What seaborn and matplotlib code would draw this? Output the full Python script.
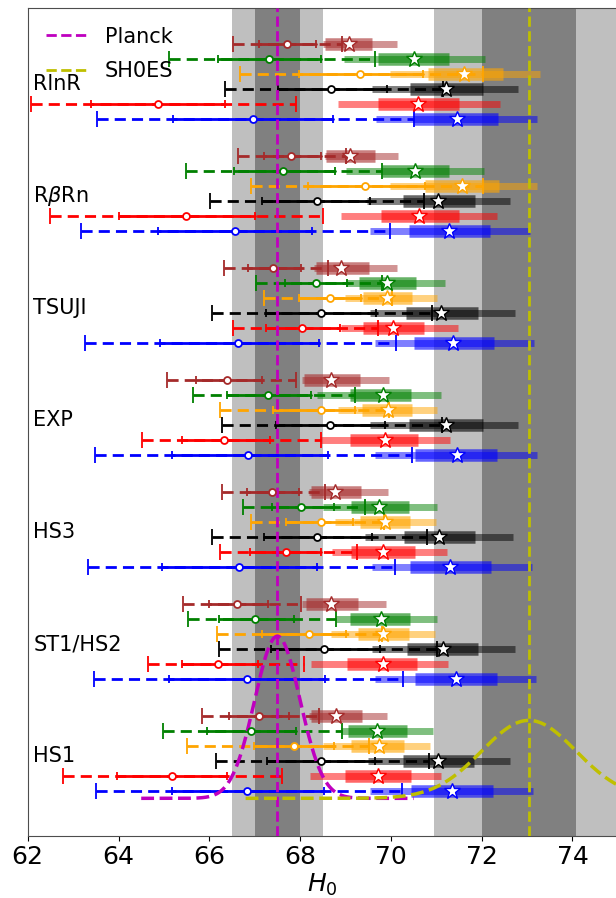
import numpy as np
import matplotlib
matplotlib.use('Agg')
import matplotlib.pyplot as plt
import seaborn as sns

# groups listed top to bottom, rows inside a group top to bottom
models = ['RlnR', r'R$\beta$Rn', 'TSUJI', 'EXP', 'HS3', 'ST1/HS2', 'HS1']
colors = ['brown', 'green', 'orange', 'black', 'red', 'blue']

# circle estimates: centre, 1-sigma and 2-sigma limits
c_mid = [[67.71, 67.31, 69.33, 68.69, 64.86, 66.96],
         [67.79, 67.63, 69.43, 68.37, 65.48, 66.57],
         [67.41, 68.36, 68.66, 68.47, 68.05, 66.63],
         [66.40, 67.30, 68.47, 68.65, 66.32, 66.86],
         [67.38, 68.03, 68.45, 68.38, 67.69, 66.65],
         [66.60, 67.00, 68.20, 68.53, 66.19, 66.84],
         [67.09, 66.92, 67.86, 68.47, 65.17, 66.84]]
c_lo1 = [[67.10, 66.19, 67.97, 67.51, 63.40, 65.21],
         [67.21, 66.54, 68.17, 67.17, 64.00, 64.86],
         [66.86, 67.67, 67.97, 67.26, 67.26, 64.92],
         [65.71, 66.40, 67.41, 67.46, 65.40, 65.17],
         [66.82, 67.38, 67.70, 67.20, 66.90, 64.96],
         [66.00, 66.21, 67.17, 67.36, 65.40, 65.11],
         [66.44, 65.94, 66.98, 67.28, 63.96, 65.17]]
c_hi1 = [[68.34, 68.47, 70.70, 69.91, 66.35, 68.72],
         [68.45, 68.76, 70.75, 69.55, 67.00, 68.27],
         [68.01, 69.03, 69.34, 69.68, 68.88, 68.42],
         [67.17, 68.23, 69.22, 69.86, 67.34, 68.61],
         [67.98, 68.74, 69.16, 69.58, 68.47, 68.38],
         [67.30, 67.86, 69.01, 69.76, 67.07, 68.55],
         [67.76, 67.90, 68.74, 69.64, 66.40, 68.53]]
c_lo2 = [[66.53, 65.12, 66.67, 66.35, 62.08, 63.52],
         [66.63, 65.48, 66.92, 66.02, 62.49, 63.18],
         [66.32, 67.02, 67.21, 66.07, 66.52, 63.27],
         [65.07, 65.64, 66.23, 66.28, 64.52, 63.48],
         [66.29, 66.74, 66.92, 66.07, 66.24, 63.33],
         [65.42, 65.53, 66.17, 66.21, 64.64, 63.47],
         [65.84, 64.97, 65.50, 66.14, 62.77, 63.50]]
c_hi2 = [[68.93, 69.65, 72.03, 71.14, 67.91, 70.51],
         [69.01, 69.80, 72.02, 70.72, 68.51, 69.97],
         [68.61, 69.80, 70.03, 70.91, 69.72, 70.11],
         [67.90, 69.20, 69.95, 71.12, 68.47, 70.47],
         [68.55, 69.44, 69.85, 70.79, 69.26, 70.08],
         [68.01, 68.80, 69.80, 71.01, 68.09, 70.26],
         [68.42, 68.93, 69.51, 70.85, 67.61, 70.24]]

# star estimates: centre, 1-sigma and 2-sigma limits
s_mid = [[69.08, 70.51, 71.62, 71.22, 70.60, 71.45],
         [69.11, 70.53, 71.57, 71.03, 70.62, 71.29],
         [68.90, 69.91, 69.91, 71.11, 70.05, 71.37],
         [68.68, 69.82, 69.93, 71.22, 69.87, 71.45],
         [68.78, 69.74, 69.87, 71.06, 69.82, 71.31],
         [68.69, 69.79, 69.83, 71.14, 69.82, 71.43],
         [68.80, 69.69, 69.74, 71.04, 69.72, 71.34]]
s_lo1 = [[68.55, 69.72, 70.81, 70.43, 69.72, 70.51],
         [68.58, 69.80, 70.76, 70.26, 69.78, 70.40],
         [68.34, 69.30, 69.38, 70.33, 69.38, 70.51],
         [68.09, 69.11, 69.37, 70.40, 69.11, 70.54],
         [68.23, 69.12, 69.33, 70.28, 69.13, 70.43],
         [68.13, 69.09, 69.28, 70.35, 69.03, 70.54],
         [68.23, 69.05, 69.13, 70.26, 69.00, 70.45]]
s_hi1 = [[69.59, 71.29, 72.46, 72.02, 71.50, 72.35],
         [69.64, 71.29, 72.39, 71.85, 71.50, 72.18],
         [69.51, 70.56, 70.47, 71.92, 70.72, 72.27],
         [69.32, 70.45, 70.47, 72.02, 70.60, 72.33],
         [69.34, 70.39, 70.43, 71.85, 70.53, 72.21],
         [69.28, 70.43, 70.39, 71.93, 70.57, 72.33],
         [69.37, 70.35, 70.30, 71.83, 70.45, 72.24]]
s_lo2 = [[68.50, 68.97, 69.97, 69.59, 68.84, 69.68],
         [68.55, 69.01, 69.97, 69.47, 68.91, 69.55],
         [68.30, 69.01, 69.00, 69.55, 68.90, 69.64],
         [68.05, 68.38, 68.84, 69.55, 68.47, 69.64],
         [68.19, 68.50, 68.76, 69.44, 68.70, 69.58],
         [68.05, 68.80, 68.68, 69.58, 68.23, 69.64],
         [68.19, 68.90, 68.51, 69.49, 68.22, 69.55]]
s_hi2 = [[70.14, 72.08, 73.29, 72.79, 72.41, 73.23],
         [70.16, 72.06, 73.23, 72.63, 72.33, 73.06],
         [70.14, 71.20, 71.01, 72.73, 71.47, 73.16],
         [69.95, 71.10, 71.01, 72.79, 71.31, 73.23],
         [69.93, 71.01, 70.99, 72.69, 71.24, 73.10],
         [69.90, 71.01, 70.97, 72.73, 71.25, 73.20],
         [69.91, 70.93, 70.87, 72.62, 71.11, 73.12]]

# reference measurements
planck_mean, planck_sig = 67.5, 0.5
shoes_mean, shoes_sig = 73.04, 1.04

sns.set_style('ticks')
plt.rcParams.update({'text.color': 'black', 'axes.labelcolor': 'black',
                     'xtick.color': 'black', 'axes.edgecolor': '0.3'})
fig = plt.figure(figsize=(6.16, 8.98), dpi=100)
ax = fig.add_axes([0.045, 0.0694, 0.958, 0.9217])

# shaded bands
for m, s in [(planck_mean, planck_sig), (shoes_mean, shoes_sig)]:
    ax.axvspan(m - 2 * s, m + 2 * s, color='0.75', lw=0, zorder=0)
    ax.axvspan(m - s, m + s, color='0.5', lw=0, zorder=0)

ax.axvline(planck_mean, color='m', ls='--', lw=2, zorder=5, label='Planck')
ax.axvline(shoes_mean, color='y', ls='--', lw=2, zorder=5, label='SH0ES')

group_gap = 7.5
for g, name in enumerate(models):
    base = (len(models) - 1 - g) * group_gap
    ax.text(62.12, base + 2.3, name, fontsize=15, va='center', ha='left')
    for j, col in enumerate(colors):
        y = base + 5 - j
        # star: shaded bars
        ax.plot([s_lo2[g][j], s_hi2[g][j]], [y, y], color=col, lw=5,
                alpha=0.5, solid_capstyle='butt', zorder=2)
        ax.plot([s_lo1[g][j], s_hi1[g][j]], [y, y], color=col, lw=9,
                alpha=0.6, solid_capstyle='butt', zorder=2)
        # circle: dashed 2-sigma, solid 1-sigma
        ax.plot([c_lo2[g][j], c_hi2[g][j]], [y, y], color=col, lw=2,
                ls=(0, (4, 2.2)), zorder=3)
        ax.plot([c_lo1[g][j], c_hi1[g][j]], [y, y], color=col, lw=2,
                zorder=3)
        ax.plot([c_lo2[g][j], c_hi2[g][j]], [y, y], ls='none', marker='|',
                ms=12, mew=1.3, color=col, zorder=3)
        ax.plot([c_lo1[g][j], c_hi1[g][j]], [y, y], ls='none', marker='|',
                ms=6, mew=1.3, color=col, zorder=3)
        ax.plot(c_mid[g][j], y, marker='o', ms=5, mfc='white', mec=col,
                mew=1.3, zorder=6)
        ax.plot(s_mid[g][j], y, marker='*', ms=12, mfc='white', mec=col,
                mew=1.0, zorder=6)

# Gaussian likelihoods of the two references
for m, s, c in [(planck_mean, planck_sig, 'm'), (shoes_mean, shoes_sig, 'y')]:
    xg = np.linspace(m - 6 * s, m + 6 * s, 300)
    yg = 13.6 * np.exp(-0.5 * ((xg - m) / s) ** 2) / (s * np.sqrt(2 * np.pi)) - 0.5
    sns.lineplot(x=xg, y=yg, color=c, ls='--', lw=2.5, ax=ax, zorder=5)

ax.set_xlim(62, 75)
ax.set_ylim(-3, 52.4)
ax.set_xticks([62, 64, 66, 68, 70, 72, 74])
ax.set_yticks([])
ax.tick_params(axis='x', labelsize=18)
ax.set_xlabel(r'$H_0$', fontsize=18, labelpad=2)
ax.legend(loc='upper left', frameon=False, fontsize=15, labelspacing=0.7)

fig.savefig('out.png', dpi=100)
